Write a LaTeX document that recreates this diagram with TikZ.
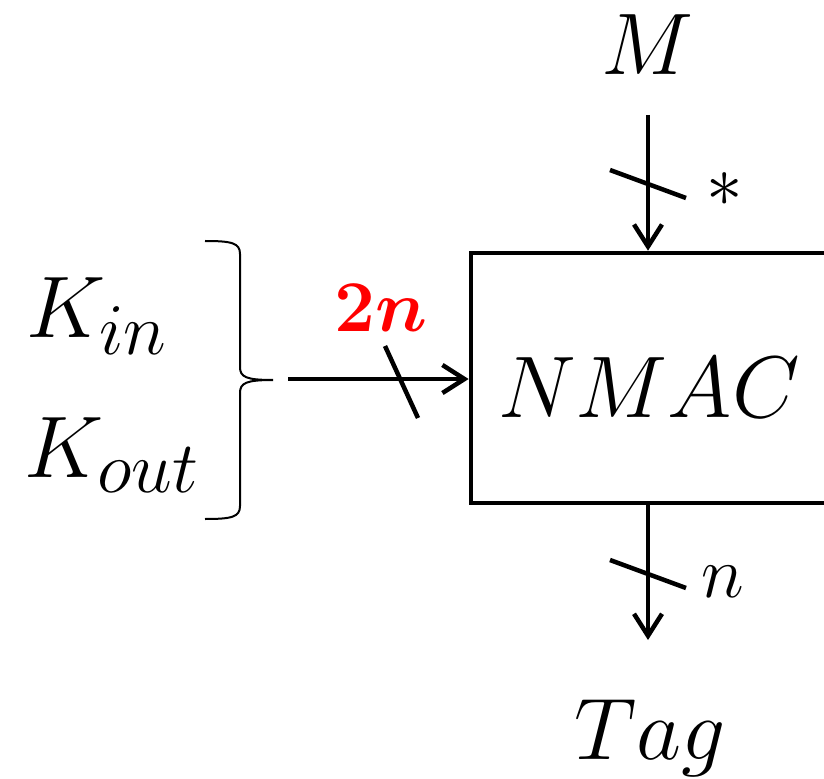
\documentclass[tikz,border=0pt]{standalone}
\usepackage{amsmath,amssymb,bm}
\usepackage{xcolor}
\usepackage{tikz}
\usetikzlibrary{arrows.meta,calc}

\begin{document}
\begin{tikzpicture}[
   x=0.01cm, y=-0.01cm,
   >={Straight Barb[length=2.2mm,width=2.8mm]}, line width=0.045cm,
   lbl/.style={inner sep=0pt, font=\fontsize{25}{30}\selectfont},
   big/.style={inner sep=0pt, font=\fontsize{30}{35}\selectfont},
   small/.style={inner sep=0pt, font=\fontsize{21}{25}\selectfont},
   blk/.style={draw, minimum width=3.8cm, minimum height=2.5cm, inner sep=0pt},
   brace/.style={line width=0.02cm}]
  \useasboundingbox (0,0) rectangle (824,779);
  \clip (0,0) rectangle (824,779);
  % block
  \node[blk] (nmac) at (661,378) {};
  \node[lbl] (name) at (649,388) {$NMAC$};
  % keys
  \node[big] (kin)  at (97,316)  {$K_{in}$};
  \node[big] (kout) at (112,455) {$K_{out}$};
  \coordinate (btop) at (205,241);
  \coordinate (bbot) at (205,519);
  \draw[brace] (btop) .. controls (232,241) and (240,243) .. (240,254) -- (240,367)
     .. controls (240,377) and (246,380) .. (273,380)
     .. controls (246,380) and (240,383) .. (240,393) -- (240,506)
     .. controls (240,517) and (232,519) .. (bbot);
  \coordinate (kfeed) at (288,379);
  \draw[->] (kfeed) -- (kfeed -| nmac.west);
  \draw (385,346) -- (418,418);
  \node[font=\fontsize{20}{24}\selectfont, text=red, inner sep=0pt] (klen) at (381,308) {$\bm{2n}$};
  % message
  \node[lbl] (msg) at (648,45) {$M$};
  \coordinate (mfeed) at (648,115);
  \draw[->] (mfeed) -- (mfeed |- nmac.north);
  \draw (610,170) -- (686,198);
  \node[small] (mlen) at (725,190) {$\ast$};
  % tag
  \coordinate (tout) at (648,640);
  \draw[->] (tout |- nmac.south) -- (tout);
  \draw (610,560) -- (686,588);
  \node[small] (tlen) at (723,582) {$n$};
  \node[lbl] (tag) at (650,738) {$Tag$};
\end{tikzpicture}
\end{document}
